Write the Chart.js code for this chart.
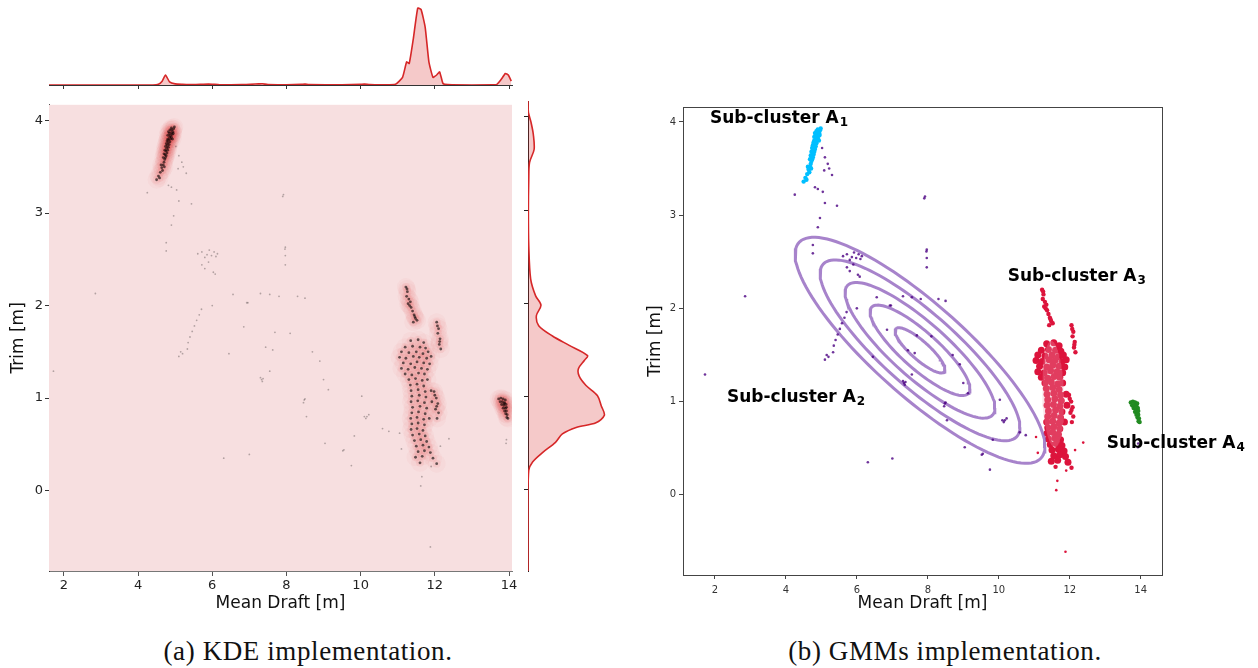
<!DOCTYPE html>
<html>
<head>
<meta charset="utf-8">
<script src="https://cdn.jsdelivr.net/npm/chart.js@4.4.0/dist/chart.umd.min.js"></script>
<style>
  body { margin: 0; width: 1258px; height: 668px; background: #fff; position: relative; overflow: hidden; }
  canvas { position: absolute; }
  .caption { position: absolute; top: 636px; line-height: 30px; font-family: "Liberation Serif", serif; font-size: 27px;
             letter-spacing: 0.6px; color: #111; transform: translateX(-50%); white-space: nowrap; }
</style>
</head>
<body>
<canvas id="topKde" width="620" height="95" style="left:0;top:0"></canvas>
<canvas id="sideKde" width="120" height="490" style="left:500px;top:95px"></canvas>
<canvas id="kdeMain" width="620" height="535" style="left:0;top:95px"></canvas>
<canvas id="gmmMain" width="638" height="540" style="left:620px;top:90px"></canvas>
<div class="caption" style="left:308px">(a) KDE implementation.</div>
<div class="caption" style="left:945px">(b) GMMs implementation.</div>

<script>
// ---------- data ----------
const draftTicks = [2, 4, 6, 8, 10, 12, 14];
const trimTicks = [0, 1, 2, 3, 4];

// marginal KDE of mean draft (top strip), peak = 1
const topDraft = [1.58, 3.0, 4.40, 4.55, 4.65, 4.74, 4.85, 5.00, 5.20, 5.50, 5.90, 6.20, 6.80, 7.25, 7.35, 7.50,
  8.00, 8.40, 8.50, 8.60, 9.50, 10.00, 10.10, 10.25, 10.60, 10.94, 11.13, 11.24, 11.31, 11.42, 11.54, 11.63,
  11.74, 11.84, 11.95, 12.05, 12.13, 12.22, 12.35, 13.00, 13.66, 13.80, 13.90, 13.98, 14.06];
const topDensity = [0, 0, 0, 0.01, 0.05, 0.13, 0.04, 0.015, 0.01, 0.006, 0.012, 0.004, 0.005, 0.014, 0.016, 0.005,
  0.004, 0.008, 0.012, 0.005, 0.004, 0.01, 0.012, 0.006, 0.004, 0.01, 0.1, 0.30, 0.28, 0.6, 1.0, 0.98,
  0.75, 0.3, 0.1, 0.13, 0.17, 0.02, 0.005, 0, 0.005, 0.08, 0.15, 0.13, 0.05];

// marginal KDE of trim (right strip), peak = 1
const sideTrim = [4.17, 4.05, 3.94, 3.81, 3.65, 3.51, 3.33, 2.98, 2.62, 2.26, 2.08, 1.98, 1.87, 1.76, 1.65, 1.55,
  1.44, 1.39, 1.30, 1.22, 1.12, 1.01, 0.90, 0.80, 0.72, 0.67, 0.60, 0.51, 0.40, 0.30, 0.21, -0.06, -0.87];
const sideDensity = [0, 0.005, 0.04, 0.07, 0.08, 0.02, 0.01, 0.005, 0.01, 0.035, 0.10, 0.17, 0.11, 0.14, 0.32, 0.54,
  0.78, 0.74, 0.66, 0.67, 0.76, 0.91, 0.96, 1.0, 0.89, 0.63, 0.45, 0.36, 0.19, 0.06, 0.01, 0, 0];

// observations [mean draft, trim] per sub-cluster
const a1Points = [[4.55,3.40],[4.60,3.44],[4.64,3.49],[4.66,3.46],[4.68,3.52],[4.70,3.55],[4.71,3.50],[4.72,3.58],
  [4.73,3.63],[4.74,3.60],[4.75,3.67],[4.76,3.62],[4.77,3.70],[4.78,3.65],[4.79,3.73],[4.80,3.68],[4.80,3.84],
  [4.81,3.76],[4.82,3.71],[4.83,3.79],[4.84,3.74],[4.84,3.86],[4.85,3.82],[4.86,3.77],[4.87,3.84],[4.88,3.80],
  [4.89,3.87],[4.90,3.82],[4.91,3.90],[4.92,3.85],[4.94,3.88],[4.96,3.91],[4.98,3.93],
  [4.62,3.52],[4.68,3.60],[4.72,3.68],[4.76,3.75],[4.80,3.80],[4.86,3.90],[4.90,3.92],[4.95,3.86],
  [4.70,3.64],[4.58,3.38],[4.50,3.36],[4.74,3.72],[4.78,3.78],[4.82,3.88],[4.93,3.80]];

const a2Points = [[5.02,3.72],[5.10,3.62],[5.18,3.55],[5.30,3.43],[5.22,3.50],[5.08,3.48],
  [4.82,3.30],[4.90,3.28],[5.04,3.25],[5.10,3.13],[5.44,3.10],[4.96,2.97],[4.90,2.87],[4.25,3.22],
  [7.92,3.20],[7.90,3.18],[4.76,2.59],[4.76,2.68],[2.85,2.13],[1.72,1.29],
  [5.61,2.56],[5.72,2.58],[5.80,2.52],[5.86,2.55],[5.92,2.60],[5.98,2.54],[6.05,2.58],[6.10,2.53],[6.14,2.56],[5.90,2.47],
  [5.72,2.44],[5.80,2.40],[6.03,2.36],[6.08,2.34],[6.00,2.00],
  [7.97,2.63],[7.96,2.61],[7.97,2.54],[7.97,2.44],
  [5.15,1.50],[5.10,1.45],[5.20,1.48],[5.33,1.53],[5.35,1.60],[5.40,1.66],[5.46,1.72],[5.52,1.78],[5.58,1.84],[5.65,1.90],[5.71,1.96],
  [6.56,2.12],[6.93,2.03],[6.96,2.03],[7.69,1.71],[7.44,1.55],[7.63,1.52],[7.55,1.29],[6.45,1.48],[6.85,1.77],
  [7.30,2.13],[7.55,2.12],[7.80,2.10],[8.30,2.10],[8.50,2.08],[8.10,1.70],[8.70,1.50],[8.90,1.40],[9.00,1.20],
  [7.33,1.20],[7.35,1.18],[7.30,1.22],[7.37,1.21],
  [8.48,0.98],[8.46,0.95],[8.50,0.99],
  [9.13,1.09],[10.03,1.02],[10.10,0.80],[10.17,0.80],[10.22,0.82],[10.14,0.78],
  [10.59,0.67],[10.76,0.64],[8.54,0.80],[9.04,0.51],[9.83,0.59],[9.52,0.43],[9.55,0.44],[9.75,0.27],
  [6.31,0.35],[7.00,0.39],[13.92,0.51],[13.93,0.55]];

// A3: dense core
const a3Core = [
  [11.35,1.62],[11.55,1.63],[11.70,1.60],
  [11.20,1.55],[11.40,1.56],[11.60,1.55],[11.75,1.54],
  [11.10,1.50],[11.30,1.49],[11.50,1.50],[11.68,1.48],[11.82,1.50],
  [11.05,1.44],[11.22,1.43],[11.42,1.45],[11.58,1.44],[11.78,1.43],[11.90,1.45],
  [11.15,1.38],[11.35,1.37],[11.52,1.39],[11.70,1.38],[11.86,1.37],
  [11.10,1.32],[11.28,1.31],[11.46,1.33],[11.64,1.32],[11.80,1.31],
  [11.20,1.26],[11.38,1.25],[11.56,1.27],[11.72,1.26],
  [11.30,1.20],[11.48,1.21],[11.66,1.19],[11.80,1.20],
  [11.34,1.14],[11.52,1.15],[11.70,1.13],
  [11.36,1.08],[11.55,1.09],[11.74,1.07],[11.90,1.08],
  [11.38,1.02],[11.58,1.03],[11.76,1.01],
  [11.36,0.96],[11.54,0.97],[11.72,0.95],[11.92,0.96],
  [11.40,0.90],[11.60,0.91],[11.78,0.89],
  [11.38,0.84],[11.56,0.85],[11.74,0.83],
  [11.35,0.78],[11.52,0.79],[11.70,0.77],[11.85,0.78],
  [11.38,0.72],[11.55,0.73],[11.72,0.71],
  [11.36,0.66],[11.52,0.67],[11.68,0.65],
  [11.40,0.60],[11.58,0.61],[11.74,0.59],
  [11.45,0.54],[11.62,0.55],[11.78,0.53],
  [11.50,0.48],[11.68,0.49],[11.84,0.47],
  [11.55,0.42],[11.72,0.43],[11.88,0.41],
  [11.48,0.36],[11.66,0.37],[11.95,0.35]];
// A3: side blobs and strips
const a3Outer = [
  [11.60,0.30],[12.05,0.29],
  [11.22,2.20],[11.26,2.15],[11.24,2.10],[11.30,2.07],[11.28,2.02],[11.34,2.04],[11.36,1.98],[11.40,1.94],
  [11.44,1.90],[11.48,1.86],[11.52,1.84],[11.42,1.82],[11.25,2.18],[11.32,2.00],[11.46,1.88],
  [12.05,1.82],[12.10,1.75],[12.08,1.70],[12.14,1.64],[12.12,1.58],[12.16,1.53],[12.07,1.78],[12.13,1.61],
  [11.98,1.07],[12.04,1.00],[12.08,0.94],[12.02,0.88],[12.10,0.84],[12.06,0.78],[12.00,1.03],[12.05,0.91]];
// A3: stray points
const a3Stray = [[11.62,0.05],[11.88,-0.61],[12.15,0.48],[12.38,0.56],[11.05,0.62],[11.10,0.45],[11.90,0.26],[11.65,0.15]];

const a4Points = [[13.72,0.99],[13.78,1.00],[13.84,0.99],[13.90,0.98],[13.76,0.96],[13.82,0.96],[13.88,0.95],
  [13.80,0.93],[13.86,0.92],[13.92,0.93],[13.84,0.89],[13.90,0.89],[13.88,0.86],[13.93,0.86],[13.91,0.83],
  [13.95,0.82],[13.94,0.79],[13.97,0.78],[13.87,0.94],[13.93,0.90]];

// GMM component of A2, contours at 1..5 sigma
const a2Mean = [7.78, 1.55];
const a2Std = [0.704, 0.2425];
const a2Rho = -0.85;
const a2Levels = [1, 2, 3, 4, 5];

// GMM component of A3
const a3Mean = [11.53, 1.08];
const a3Std = [0.155, 0.285];
const a3Rho = -0.15;
const a3Level = 2;

// sub-cluster labels (left edge of text, vertical centre)
const labelText = ['Sub-cluster A', 'Sub-cluster A', 'Sub-cluster A', 'Sub-cluster A'];
const labelSub = ['1', '2', '3', '4'];
const labelDraft = [1.86, 2.34, 10.25, 13.04];
const labelTrim = [4.05, 1.06, 2.36, 0.57];

// ---------- helpers ----------
const kdeRed = '#d62728';
const kdeFill = 'rgba(214,39,40,0.25)';
const tickFont = { family: 'DejaVu Sans', size: 13 };

function toXY(pts) {
  return pts.map(p => ({ x: p[0], y: p[1] }));
}

// covariance ellipse of a 2d gaussian at k sigma
function ellipse(mean, std, rho, k) {
  const pts = [];
  for (let i = 0; i <= 120; i++) {
    const t = i / 120 * Math.PI * 2;
    pts.push({
      x: mean[0] + k * std[0] * Math.cos(t),
      y: mean[1] + k * std[1] * (rho * Math.cos(t) + Math.sqrt(1 - rho * rho) * Math.sin(t))
    });
  }
  return pts;
}

function fixedTicks(values) {
  return scale => { scale.ticks = values.map(v => ({ value: v })); };
}

const baseOpts = {
  responsive: false,
  animation: false,
  events: [],
  plugins: { legend: { display: false }, tooltip: { enabled: false } }
};

// ---------- top marginal ----------
new Chart(document.getElementById('topKde'), {
  type: 'line',
  data: {
    datasets: [{
      data: topDraft.map((x, i) => ({ x: x, y: topDensity[i] })),
      borderColor: kdeRed, backgroundColor: kdeFill, borderWidth: 1.6,
      fill: 'origin', pointRadius: 0, tension: 0.15
    }]
  },
  options: {
    ...baseOpts,
    layout: { padding: { left: 49, right: 108, top: 5, bottom: 0 } },
    scales: {
      x: {
        type: 'linear', min: 1.6, max: 14.08, afterBuildTicks: fixedTicks(draftTicks),
        ticks: { display: false },
        grid: { drawOnChartArea: false, tickLength: 4, color: '#333' },
        border: { color: '#333' },
        afterFit: s => { s.height = 10; }
      },
      y: { display: false, min: 0, max: 1.04 }
    }
  }
});

// ---------- right marginal ----------
new Chart(document.getElementById('sideKde'), {
  type: 'line',
  data: {
    datasets: [{
      data: sideTrim.map((y, i) => ({ x: sideDensity[i], y: y })),
      borderColor: kdeRed, backgroundColor: kdeFill, borderWidth: 1.6,
      fill: 'origin', pointRadius: 0, tension: 0.3
    }]
  },
  options: {
    ...baseOpts,
    indexAxis: 'y',
    layout: { padding: { left: 0, right: 8, top: 6, bottom: 14 } },
    scales: {
      x: { type: 'linear', display: false, min: 0, max: 1.1 },
      y: {
        type: 'linear', min: -0.87, max: 4.17, afterBuildTicks: fixedTicks(trimTicks),
        ticks: { display: false },
        grid: { drawOnChartArea: false, tickLength: 4, color: '#222' },
        border: { color: '#222' },
        afterFit: s => { s.width = 28; }
      }
    }
  }
});

// ---------- (a) KDE main ----------
const pinkBackground = {
  id: 'pinkBackground',
  beforeDatasetsDraw(chart) {
    const { ctx, chartArea: a } = chart;
    ctx.save();
    ctx.fillStyle = 'rgb(247,223,224)';
    ctx.fillRect(a.left, a.top, a.right - a.left, a.bottom - a.top);
    ctx.restore();
  }
};

const densePoints = toXY([...a1Points, ...a3Core, ...a3Outer, ...a4Points]);
const faintPoints = toXY([...a2Points, ...a3Stray]);

new Chart(document.getElementById('kdeMain'), {
  type: 'scatter',
  data: {
    datasets: [
      { data: densePoints, pointRadius: 1.4, borderWidth: 0, backgroundColor: 'rgba(0,0,0,0.6)', order: 0 },
      { data: faintPoints, pointRadius: 0.9, borderWidth: 0, backgroundColor: 'rgba(0,0,0,0.28)', order: 1 },
      { data: densePoints, pointRadius: 4, borderWidth: 0, backgroundColor: 'rgba(230,30,40,0.06)', order: 2 },
      { data: densePoints, pointRadius: 9, borderWidth: 0, backgroundColor: 'rgba(230,60,70,0.035)', order: 3 }
    ]
  },
  options: {
    ...baseOpts,
    layout: { padding: { left: 0, right: 108, top: 6, bottom: 16 } },
    scales: {
      x: {
        type: 'linear', min: 1.6, max: 14.08, afterBuildTicks: fixedTicks(draftTicks),
        ticks: { font: tickFont, color: '#222', padding: 2 },
        grid: { drawOnChartArea: false, tickLength: 5, color: '#555' },
        border: { color: '#777' },
        title: { display: true, text: 'Mean Draft [m]', font: { family: 'DejaVu Sans', size: 17 }, color: '#111', padding: 0 },
        afterFit: s => { s.height = 43; }
      },
      y: {
        type: 'linear', min: -0.87, max: 4.17, afterBuildTicks: fixedTicks(trimTicks),
        ticks: { font: tickFont, color: '#222', padding: 2 },
        grid: { drawOnChartArea: false, tickLength: 4, color: '#333' },
        border: { color: '#333' },
        title: { display: true, text: 'Trim [m]', font: { family: 'DejaVu Sans', size: 17 }, color: '#111', padding: { top: 8 } },
        afterFit: s => { s.width = 49; }
      }
    }
  },
  plugins: [pinkBackground]
});

// ---------- (b) GMM main ----------
const boxAndLabels = {
  id: 'boxAndLabels',
  afterDraw(chart) {
    const { ctx, chartArea: a, scales: { x, y } } = chart;
    ctx.save();
    ctx.strokeStyle = '#444';
    ctx.lineWidth = 1;
    ctx.strokeRect(a.left + 0.5, a.top + 0.5, a.right - a.left, a.bottom - a.top);
    ctx.fillStyle = '#000';
    ctx.textBaseline = 'alphabetic';
    labelText.forEach((t, i) => {
      const px = x.getPixelForValue(labelDraft[i]);
      const py = y.getPixelForValue(labelTrim[i]);
      ctx.font = 'bold 17px "DejaVu Sans"';
      ctx.fillText(t, px, py + 6);
      const w = ctx.measureText(t).width;
      ctx.font = 'bold 12px "DejaVu Sans"';
      ctx.fillText(labelSub[i], px + w + 1, py + 9);
    });
    ctx.restore();
  }
};

const gmmSets = a2Levels.map(k => ({
  data: ellipse(a2Mean, a2Std, a2Rho, k), showLine: true, pointRadius: 0,
  borderColor: 'rgba(145,100,190,0.8)', borderWidth: 3, fill: false, order: 1
}));

new Chart(document.getElementById('gmmMain'), {
  type: 'scatter',
  data: {
    datasets: [
      { data: toXY(a2Points), pointRadius: 1.3, borderWidth: 0, backgroundColor: 'rgba(75,0,130,0.8)', order: 0 },
      ...gmmSets,
      { data: ellipse(a3Mean, a3Std, a3Rho, a3Level), showLine: true, pointRadius: 0, borderWidth: 0,
        backgroundColor: 'rgba(240,160,180,0.3)', fill: 'shape', order: 2 },
      { data: toXY(a3Core), pointRadius: 3.5, borderWidth: 0, backgroundColor: 'crimson', order: 3 },
      { data: toXY(a3Outer), pointRadius: 2.2, borderWidth: 0, backgroundColor: 'crimson', order: 3 },
      { data: toXY(a3Stray), pointRadius: 1.3, borderWidth: 0, backgroundColor: 'crimson', order: 3 },
      { data: toXY(a4Points), pointRadius: 2.2, borderWidth: 0, backgroundColor: 'forestgreen', order: 4 },
      { data: toXY(a1Points), pointRadius: 2.2, borderWidth: 0, backgroundColor: 'deepskyblue', order: 5 }
    ]
  },
  options: {
    ...baseOpts,
    layout: { padding: { left: 0, right: 96, top: 17, bottom: 16 } },
    scales: {
      x: {
        type: 'linear', min: 1.1, max: 14.6, afterBuildTicks: fixedTicks(draftTicks),
        ticks: { font: { family: 'DejaVu Sans', size: 10 }, color: '#333', padding: 5 },
        grid: { drawOnChartArea: false, tickLength: 4, color: '#444' },
        border: { color: '#444' },
        title: { display: true, text: 'Mean Draft [m]', font: { family: 'DejaVu Sans', size: 17 }, color: '#111', padding: 0 },
        afterFit: s => { s.height = 39; }
      },
      y: {
        type: 'linear', min: -0.86, max: 4.16, afterBuildTicks: fixedTicks(trimTicks),
        ticks: { font: { family: 'DejaVu Sans', size: 10 }, color: '#333', padding: 3 },
        grid: { drawOnChartArea: false, tickLength: 4, color: '#444' },
        border: { color: '#444' },
        title: { display: true, text: 'Trim [m]', font: { family: 'DejaVu Sans', size: 17 }, color: '#111', padding: { top: 25 } },
        afterFit: s => { s.width = 63; }
      }
    }
  },
  plugins: [boxAndLabels]
});
</script>
</body>
</html>
